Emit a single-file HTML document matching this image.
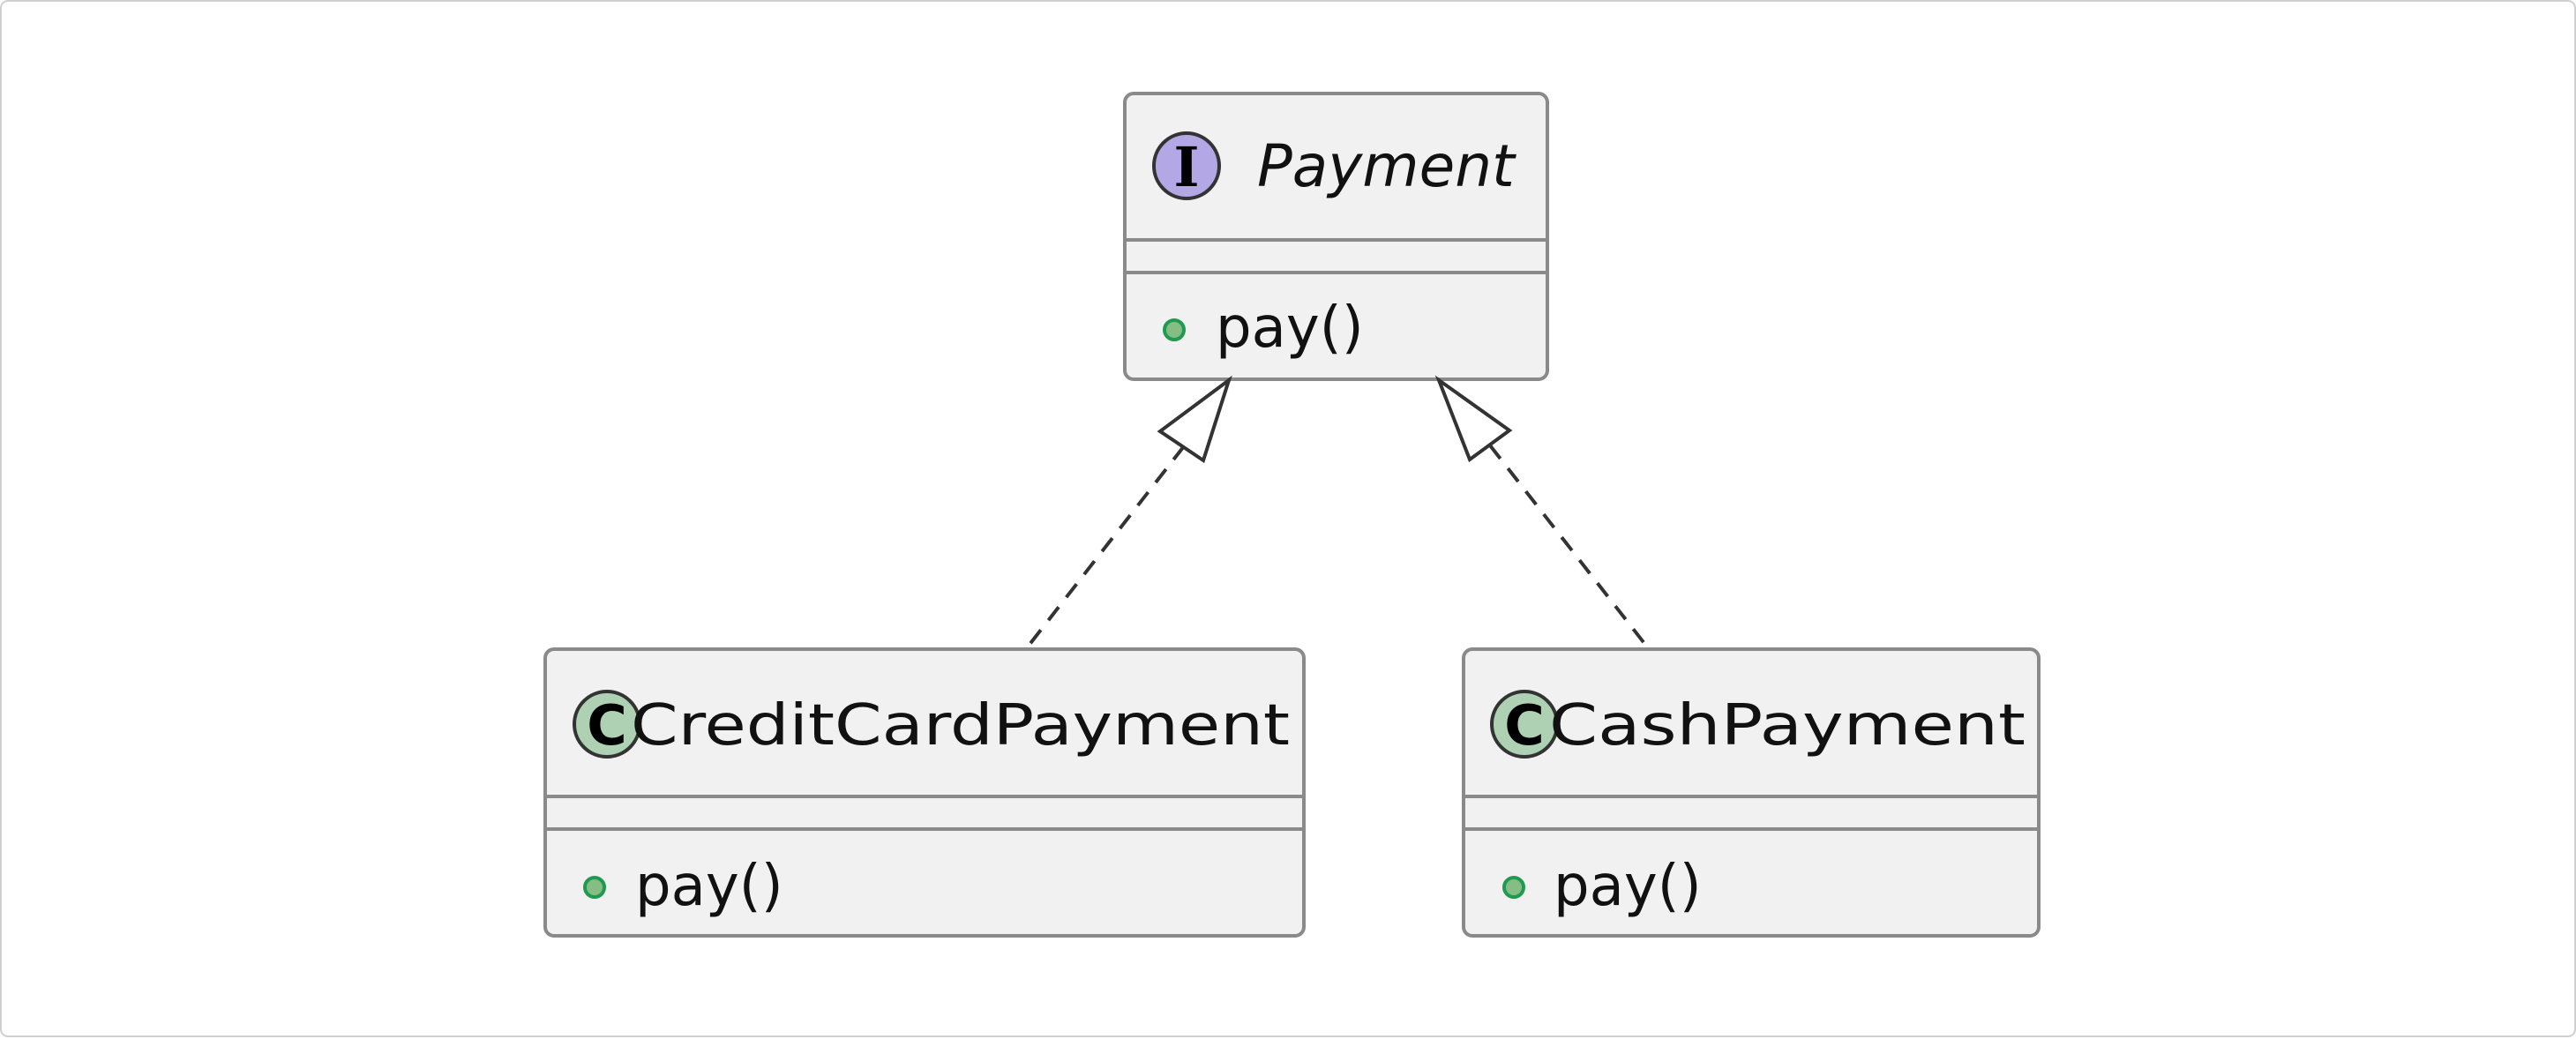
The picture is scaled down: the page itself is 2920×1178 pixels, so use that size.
<!DOCTYPE html>
<html><head><style>
html,body{margin:0;padding:0;background:#fff;}
svg{display:block;}
</style></head><body>
<svg width="2920" height="1178" viewBox="0 0 2920 1178" xmlns="http://www.w3.org/2000/svg" font-family="'DejaVu Sans','Liberation Sans',sans-serif">
<rect x="1" y="1" width="2918" height="1174" rx="8" fill="#fff" stroke="#d0d0d0" stroke-width="2"/>
<!-- Payment -->
<rect x="1275" y="106" width="479" height="324" rx="10" fill="#f1f1f1" stroke="#8a8a8a" stroke-width="4"/>
<line x1="1275" y1="272" x2="1754" y2="272" stroke="#8a8a8a" stroke-width="4"/>
<line x1="1275" y1="309" x2="1754" y2="309" stroke="#8a8a8a" stroke-width="4"/>
<circle cx="1345" cy="188" r="37" fill="#b4a7e5" stroke="#333" stroke-width="4"/>
<text x="1345" y="211" font-size="62" font-weight="bold" text-anchor="middle" fill="#000" font-family="'DejaVu Serif','Liberation Serif',serif">I</text>
<text x="1425" y="211" font-size="66" font-style="italic" fill="#111">Payment</text>
<circle cx="1331" cy="374" r="11" fill="#84be84" stroke="#1f9a50" stroke-width="4"/>
<text x="1378" y="393" font-size="64" fill="#111">pay()</text>
<!-- CreditCardPayment -->
<rect x="618" y="736" width="860" height="325" rx="10" fill="#f1f1f1" stroke="#8a8a8a" stroke-width="4"/>
<line x1="618" y1="903" x2="1478" y2="903" stroke="#8a8a8a" stroke-width="4"/>
<line x1="618" y1="940" x2="1478" y2="940" stroke="#8a8a8a" stroke-width="4"/>
<circle cx="688" cy="821" r="37" fill="#add1b2" stroke="#333" stroke-width="4"/>
<text x="688" y="844" font-size="62" font-weight="bold" text-anchor="middle" fill="#000">C</text>
<text x="715" y="844" font-size="64" fill="#111" textLength="747" lengthAdjust="spacingAndGlyphs">CreditCardPayment</text>
<circle cx="674" cy="1006" r="11" fill="#84be84" stroke="#1f9a50" stroke-width="4"/>
<text x="720" y="1026" font-size="64" fill="#111">pay()</text>
<!-- CashPayment -->
<rect x="1659" y="736" width="652" height="325" rx="10" fill="#f1f1f1" stroke="#8a8a8a" stroke-width="4"/>
<line x1="1659" y1="903" x2="2311" y2="903" stroke="#8a8a8a" stroke-width="4"/>
<line x1="1659" y1="940" x2="2311" y2="940" stroke="#8a8a8a" stroke-width="4"/>
<circle cx="1728" cy="821" r="37" fill="#add1b2" stroke="#333" stroke-width="4"/>
<text x="1728" y="844" font-size="62" font-weight="bold" text-anchor="middle" fill="#000">C</text>
<text x="1756" y="844" font-size="64" fill="#111" textLength="540" lengthAdjust="spacingAndGlyphs">CashPayment</text>
<circle cx="1716" cy="1006" r="11" fill="#84be84" stroke="#1f9a50" stroke-width="4"/>
<text x="1761" y="1026" font-size="64" fill="#111">pay()</text>
<!-- arrows -->
<line x1="1342" y1="506" x2="1166" y2="732" stroke="#333" stroke-width="4" stroke-dasharray="19,14"/>
<polygon points="1393,431 1315,489 1364,522" fill="#fff" stroke="#333" stroke-width="4"/>
<line x1="1689" y1="505" x2="1866" y2="732" stroke="#333" stroke-width="4" stroke-dasharray="19,14"/>
<polygon points="1631,431 1711,488 1666,521" fill="#fff" stroke="#333" stroke-width="4"/>
</svg>
</body></html>
